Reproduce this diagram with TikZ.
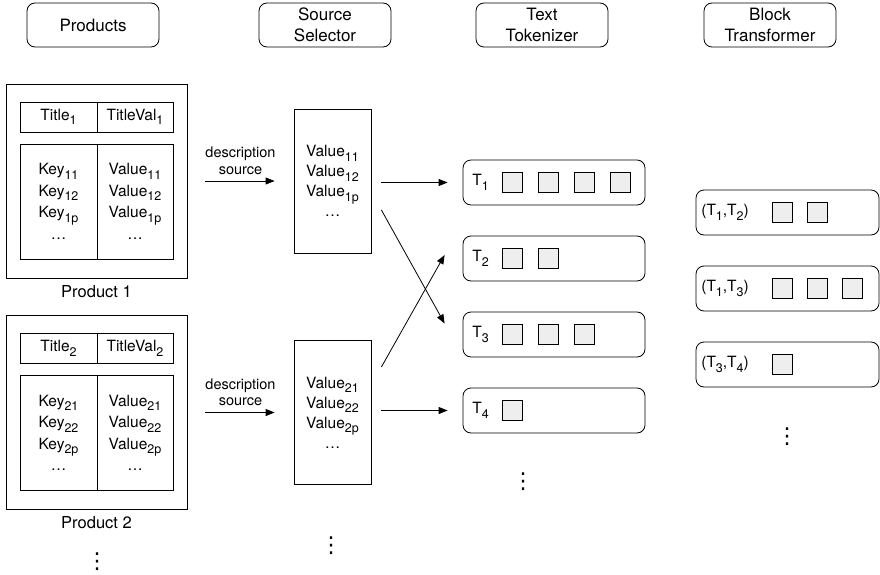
\documentclass[tikz,border=0pt]{standalone}
\usepackage{fontspec}
\setmainfont{TeX Gyre Heros}
\newfontfamily\symfont{DejaVu Sans}
\usetikzlibrary{positioning,arrows.meta}
\newcommand{\idx}[1]{\raisebox{-4.5pt}{\fontsize{12.5}{12.5}\selectfont #1}}

\begin{document}
\begin{tikzpicture}[x=1pt, y=-1pt, line width=0.8pt,
    head/.style={draw, rounded corners=8pt, minimum width=132pt, minimum height=44pt,
        align=center, font=\fontsize{17}{20.5}\selectfont},
    prod/.style={draw, minimum width=181pt, minimum height=194pt},
    cell/.style={draw, inner sep=0pt, outer sep=0pt, align=center,
        font=\fontsize{15.5}{21.5}\selectfont},
    srcbox/.style={draw, minimum width=77pt, minimum height=144pt, align=center,
        font=\fontsize{15.5}{20}\selectfont},
    tokbox/.style={draw, rounded corners=8pt, minimum width=182pt, minimum height=45pt},
    sq/.style={draw, fill=gray!13, minimum size=20pt, inner sep=0pt},
    txt/.style={font=\fontsize{15.5}{17}\selectfont},
    desc/.style={align=center, font=\fontsize{14.5}{16.5}\selectfont},
    dts/.style={font=\symfont\fontsize{22}{22}\selectfont, inner sep=0pt},
    arr/.style={-{Triangle[length=9pt,width=7pt]}}
]
\useasboundingbox (0,0) rectangle (880,575);

\node[head] (hprod) at (93,25) {Products};
\node[head] (hsrc) at (325,25) {Source\\Selector};
\node[head] (htok) at (542,25) {Text\\Tokenizer};
\node[head] (hblk) at (770,25) {Block\\Transformer};

\foreach \p/\y in {1/181,2/412.5} {
    \node[prod] (p\p) at (96.5,\y) {};
    \node[cell, minimum width=77pt, minimum height=30pt] (p\p-tk) at (58.5,\y-64) {Title\idx{\p}};
    \node[cell, minimum width=76pt, minimum height=30pt, right=0pt of p\p-tk] (p\p-tv) {TitleVal\idx{\p}};
    \node[cell, minimum width=77pt, minimum height=115pt, below=12pt of p\p-tk] (p\p-k)
        {Key\idx{\p1}\\Key\idx{\p2}\\Key\idx{\p p}\\\dots};
    \node[cell, minimum width=76pt, minimum height=115pt, below=12pt of p\p-tv] (p\p-v)
        {Value\idx{\p1}\\Value\idx{\p2}\\Value\idx{\p p}\\\dots};
    \node[txt, font=\fontsize{16.5}{18}\selectfont, below=3pt of p\p] (p\p-l) {Product \p};
    \node[srcbox] (s\p) at (332.5,\y) {Value\idx{\p1}\\Value\idx{\p2}\\Value\idx{\p p}\\\dots};
    \draw[arr, shorten <=18pt, shorten >=19pt] (p\p) -- node[desc, above=3pt] (d\p) {description\\source} (s\p);
}
\node[dts] (pdots) at (97,562) {⋮};
\node[dts] (sdots) at (331,546) {⋮};

% token lists
\foreach \t/\n in {1/4,2/2,3/3,4/1} {
    \node[tokbox] (t\t) at (554,{182.5+76*(\t-1)}) {};
    \node[txt, anchor=west] (t\t-l) at ([xshift=6pt]t\t.west) {T\idx{\t}};
    \foreach \k in {1,...,\n}
        \node[sq] (t\t-\k) at ([xshift={50+36*(\k-1)}]t\t.west) {};
}
\node[dts] (tdots) at (523,482) {⋮};

\draw[arr, shorten <=10pt, shorten >=15pt] (s1.east |- t1) -- (t1.west);
\draw[arr, shorten <=10pt, shorten >=15pt] (s2.east |- t4) -- (t4.west);
\draw[arr] ([shift={(10,29)}]s1.east) -- ([shift={(-18,-11)}]t3.west);
\draw[arr] ([shift={(10,-45.5)}]s2.east) -- ([shift={(-18,-3.5)}]t2.west);

% block pairs
\foreach \b/\lbl/\n in {1/{(T\idx{1},T\idx{2})}/2, 2/{(T\idx{1},T\idx{3})}/3, 3/{(T\idx{3},T\idx{4})}/1} {
    \node[tokbox, minimum width=183pt] (b\b) at (787.5,{212.5+76*(\b-1)}) {};
    \node[txt, anchor=west] (b\b-l) at ([xshift=2pt]b\b.west) {\lbl};
    \foreach \k in {1,...,\n}
        \node[sq] (b\b-\k) at ([xshift={86.5+35*(\k-1)}]b\b.west) {};
}
\node[dts] (bdots) at (787,437) {⋮};
\end{tikzpicture}
\end{document}
